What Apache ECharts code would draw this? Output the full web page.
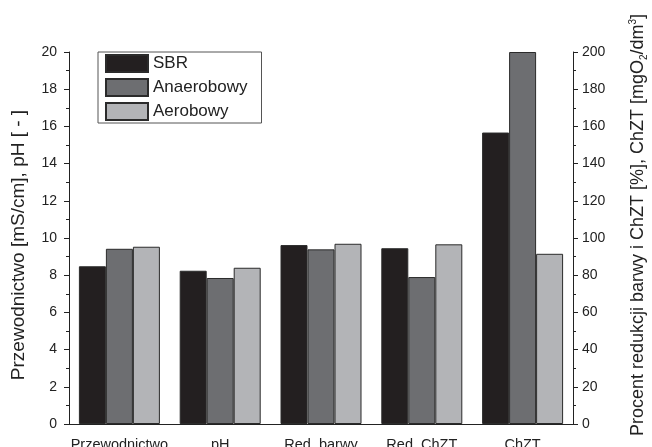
<!DOCTYPE html>
<html>
<head>
<meta charset="utf-8">
<script src="https://cdn.jsdelivr.net/npm/echarts@6/dist/echarts.min.js"></script>
<style>
  html, body { margin: 0; padding: 0; background: #fff; }
  #chart { width: 652px; height: 447px; }
</style>
</head>
<body>
<div id="chart"></div>
<script>
// Categories along the bottom axis
const categories = ['Przewodnictwo', 'pH', 'Red. barwy', 'Red. ChZT', 'ChZT'];

// Left-axis quantities (first two categories): mS/cm and pH
const sbrLeft = [8.48, 8.24];
const anaerobowyLeft = [9.42, 7.85];
const aerobowyLeft = [9.53, 8.40];

// Right-axis quantities (last three categories): % reduction and mgO2/dm3
const sbrRight = [96.2, 94.5, 156.7];
const anaerobowyRight = [93.9, 79.0, 200];
const aerobowyRight = [96.9, 96.6, 91.5];

// Axis ranges
const leftMax = 20, leftStep = 2;
const rightMax = 200, rightStep = 20;
const axisRatio = rightMax / leftMax;

// Both axes share one plotting scale; right-axis values are expressed in left-axis units
function combine(left, right) {
  return left.concat(right.map(v => v / axisRatio));
}

const FONT = 'Liberation Sans, Arial, sans-serif';
const INK = '#222';

const chart = echarts.init(document.getElementById('chart'), null, { renderer: 'canvas' });

function bar(name, color, left, right) {
  return {
    name: name,
    type: 'bar',
    xAxisIndex: 0,
    yAxisIndex: 0,
    barWidth: 27,
    barGap: '0%',
    itemStyle: { color: color, borderColor: '#2b2b2b', borderWidth: 1 },
    data: combine(left, right)
  };
}

const option = {
  animation: false,
  backgroundColor: '#fff',
  textStyle: { fontFamily: FONT, color: INK },
  grid: { left: 69, right: 79, top: 52, bottom: 23, containLabel: false, outerBoundsMode: 'none' },
  legend: {
    left: 98, top: 52,
    orient: 'vertical',
    icon: 'rect',
    itemWidth: 42, itemHeight: 17, itemGap: 5,
    padding: [2, 14, 2, 7],
    borderColor: '#555', borderWidth: 1,
    textStyle: { fontFamily: FONT, fontSize: 17, lineHeight: 17, color: INK },
    data: ['SBR', 'Anaerobowy', 'Aerobowy']
  },
  xAxis: [
    {
      type: 'category',
      data: categories,
      boundaryGap: true,
      axisLine: { lineStyle: { color: INK, width: 1 } },
      axisTick: { alignWithLabel: true, interval: 0, length: 5, lineStyle: { color: INK } },
      axisLabel: { interval: 0, fontFamily: FONT, fontSize: 14.5, color: INK, margin: 13 }
    },
    {
      type: 'category',
      data: categories,
      position: 'bottom',
      boundaryGap: true,
      axisLine: { show: false },
      axisTick: { alignWithLabel: false, interval: 0, length: 3, lineStyle: { color: INK } },
      axisLabel: { show: false }
    }
  ],
  yAxis: [
    {
      type: 'value',
      position: 'left',
      min: 0, max: leftMax, interval: leftStep,
      name: 'Przewodnictwo [mS/cm], pH [ - ]',
      nameLocation: 'middle',
      nameRotate: 90,
      nameGap: 41,
      nameTextStyle: { fontFamily: FONT, fontSize: 19, color: INK, padding: [0, 14, 0, 0] },
      axisLine: { show: true, lineStyle: { color: INK } },
      axisTick: { show: true, length: 5, lineStyle: { color: INK } },
      minorTick: { show: true, splitNumber: 2, length: 3, lineStyle: { color: INK } },
      axisLabel: { fontFamily: FONT, fontSize: 14, color: INK, margin: 12 },
      splitLine: { show: false }
    },
    {
      type: 'value',
      position: 'right',
      min: 0, max: rightMax, interval: rightStep,
      name: 'Procent redukcji barwy i ChZT [%], ChZT [mgO{sub|2}/dm{sup|3}]',
      nameLocation: 'middle',
      nameRotate: 90,
      nameGap: 55,
      nameTextStyle: {
        fontFamily: FONT, fontSize: 18, color: INK, padding: [0, 0, 0, 26],
        rich: {
          sub: { fontFamily: FONT, fontSize: 10, color: INK, padding: [11, 0, 0, 0] },
          sup: { fontFamily: FONT, fontSize: 10, color: INK, padding: [0, 0, 11, 0] }
        }
      },
      axisLine: { show: true, lineStyle: { color: INK } },
      axisTick: { show: true, length: 5, lineStyle: { color: INK } },
      minorTick: { show: true, splitNumber: 2, length: 3, lineStyle: { color: INK } },
      axisLabel: { fontFamily: FONT, fontSize: 14, color: INK, margin: 9 },
      splitLine: { show: false }
    }
  ],
  series: [
    bar('SBR', '#231f20', sbrLeft, sbrRight),
    bar('Anaerobowy', '#6d6e71', anaerobowyLeft, anaerobowyRight),
    bar('Aerobowy', '#b3b4b7', aerobowyLeft, aerobowyRight)
  ]
};

chart.setOption(option);
</script>
</body>
</html>
